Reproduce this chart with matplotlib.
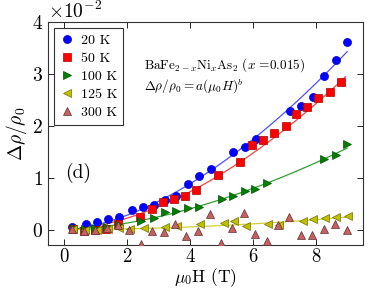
import matplotlib
matplotlib.use("Agg")
import matplotlib.pyplot as plt
from matplotlib.ticker import FormatStrFormatter
import numpy as np

plt.rcParams['font.family'] = 'serif'
plt.rcParams['font.serif'] = ['cmr10']
plt.rcParams['mathtext.fontset'] = 'cm'
plt.rcParams['axes.formatter.use_mathtext'] = True
plt.rcParams['axes.unicode_minus'] = False

# --- данные ---
H_20 = [0.27, 0.70, 1.07, 1.41, 1.77, 2.16, 2.52, 2.86, 3.21, 3.58, 3.96, 4.31,
        4.67, 5.39, 5.76, 6.11, 7.19, 7.55, 7.92, 8.27, 8.64, 9.0]
R_20 = [0.0005, 0.0010, 0.0014, 0.0021, 0.0024, 0.0038, 0.0044, 0.0048, 0.0057,
        0.0065, 0.0088, 0.0103, 0.0117, 0.0149, 0.0159, 0.0174, 0.0229, 0.0238,
        0.0256, 0.0295, 0.0327, 0.0361]

H_50 = [0.28, 0.63, 1.0, 1.34, 1.72, 2.43, 2.81, 3.16, 3.5, 3.85, 4.21, 4.91,
        5.61, 5.97, 6.32, 6.69, 7.06, 7.37, 7.73, 8.08, 8.45, 8.81]
R_50 = [0.0001, -0.0003, -0.0001, 0.0001, 0.0011, 0.0024, 0.0040, 0.0053, 0.0058,
        0.0064, 0.0077, 0.0106, 0.0130, 0.0162, 0.0173, 0.0187, 0.0200, 0.0223,
        0.0237, 0.0253, 0.0266, 0.0284]

H_100 = [0.32, 0.67, 1.0, 1.38, 1.74, 2.46, 2.86, 3.21, 3.58, 3.95, 4.3, 5.02,
         5.39, 5.74, 6.08, 6.45, 8.26, 8.63, 9.0]
R_100 = [0.0002, 0.0001, 0.0002, 0.0004, 0.0009, 0.0017, 0.0023, 0.0033, 0.0036,
         0.0041, 0.0043, 0.0058, 0.0065, 0.0074, 0.0078, 0.0090, 0.0135, 0.0143,
         0.0165]

H_125 = [0.3, 0.67, 1.04, 1.4, 1.75, 2.1, 2.54, 3.23, 3.6, 4.33, 5.08, 5.41, 5.78,
         6.5, 6.83, 7.59, 7.93, 8.3, 8.66, 9.03]
R_125 = [0.0001, 0.0, 0.0, 0.0001, 0.0002, 0.0001, 0.0003, 0.0005, 0.0007, 0.0011,
         0.0013, 0.0016, 0.0007, 0.0010, 0.0009, 0.0016, 0.0020, 0.0022, 0.0024,
         0.0027]

H_300 = [0.26, 0.64, 1.0, 1.36, 1.73, 2.08, 2.46, 2.8, 3.17, 3.53, 3.88, 4.27,
         4.63, 4.98, 5.34, 5.71, 6.08, 6.45, 6.8, 7.16, 7.52, 7.89, 8.26, 8.61, 8.98]
R_300 = [0.0001, -0.0003, 0.0, 0.0003, 0.0009, 0.0, -0.0027, -0.0002, -0.0005,
         0.0010, -0.0013, -0.0002, 0.0029, -0.0026, 0.0002, 0.0032, -0.0008,
         -0.0022, 0.0008, 0.0025, -0.0010, -0.0010, 0.0001, 0.0010, -0.0001]

# --- параметры аппроксимации a*(mu0 H)^b ---
fit_a = [0.000855, 0.00065, 0.000383, 3.45e-5]
fit_b = [1.68, 1.74, 1.69, 1.93]
fit_range = [(0.5, 9.0), (0.55, 8.95), (0.3, 9.0), (0.3, 9.0)]

labels = ['20 K', '50 K', '100 K', '125 K', '300 K']
series = [(H_20, R_20), (H_50, R_50), (H_100, R_100), (H_125, R_125), (H_300, R_300)]
markers = ['o', 's', '>', '<', '^']
colors = ['#0000ff', '#ff0000', '#007f00', '#c0c000', '#c86060']
edges = ['#0000cc', '#b00000', '#005000', '#707000', '#603030']
line_colors = ['#5050ff', '#ff4040', '#30a030', '#d0d040']

fig = plt.figure(figsize=(3.82, 2.88), dpi=100)
ax = fig.add_axes([0.1257, 0.149, 0.8243, 0.7746])

for i, (h, r) in enumerate(series):
    ax.plot(h, r, linestyle='none', marker=markers[i], ms=5.8, color=colors[i],
            mec=edges[i], mew=0.5, label=labels[i], zorder=3)

for i in range(4):
    hh = np.linspace(fit_range[i][0], fit_range[i][1], 100)
    ax.plot(hh, fit_a[i] * hh ** fit_b[i], color=line_colors[i], lw=0.9, zorder=2)

ax.set_xlim(-0.5, 9.5)
ax.set_ylim(-0.003, 0.04)
ax.set_xticks([0, 2, 4, 6, 8])
ax.xaxis.set_major_formatter(FormatStrFormatter('%d'))
ax.set_yticks([0, 0.01, 0.02, 0.03, 0.04])
ax.ticklabel_format(axis='y', style='sci', scilimits=(0, 0))
ax.yaxis.get_offset_text().set_fontsize(14)
ax.tick_params(direction='in', top=True, right=True, labelsize=14, length=4, width=0.6)
ax.tick_params(axis='x', labelsize=13.5, pad=2.5)
for s in ax.spines.values():
    s.set_linewidth(0.8)
    s.set_color('#333333')

ax.set_xlabel(r'$\mu_0$H (T)', fontsize=12.5)
ax.xaxis.set_label_coords(0.5, -0.095)
ax.set_ylabel(r'$\Delta\rho/\rho_0$', fontsize=14, labelpad=2)

ax.text(0.05, 0.011, '(d)', fontsize=14, va='center')
ax.text(2.54, 0.0317, r'BaFe$_{2-x}$Ni$_x$As$_2$ ($x$ =0.015)', fontsize=9.5, va='center')
ax.text(2.54, 0.0275, r'$\Delta\rho/\rho_0 = a(\mu_0 H)^b$', fontsize=9.5, va='center')

leg = ax.legend(loc='upper left', numpoints=1, fontsize=10, fancybox=False,
                borderaxespad=0.4, handletextpad=0.5, labelspacing=0.38,
                handlelength=1.0, borderpad=0.45, framealpha=1)
leg.get_frame().set_edgecolor('#333333')
leg.get_frame().set_linewidth(0.8)

fig.savefig('out.png', dpi=100)
